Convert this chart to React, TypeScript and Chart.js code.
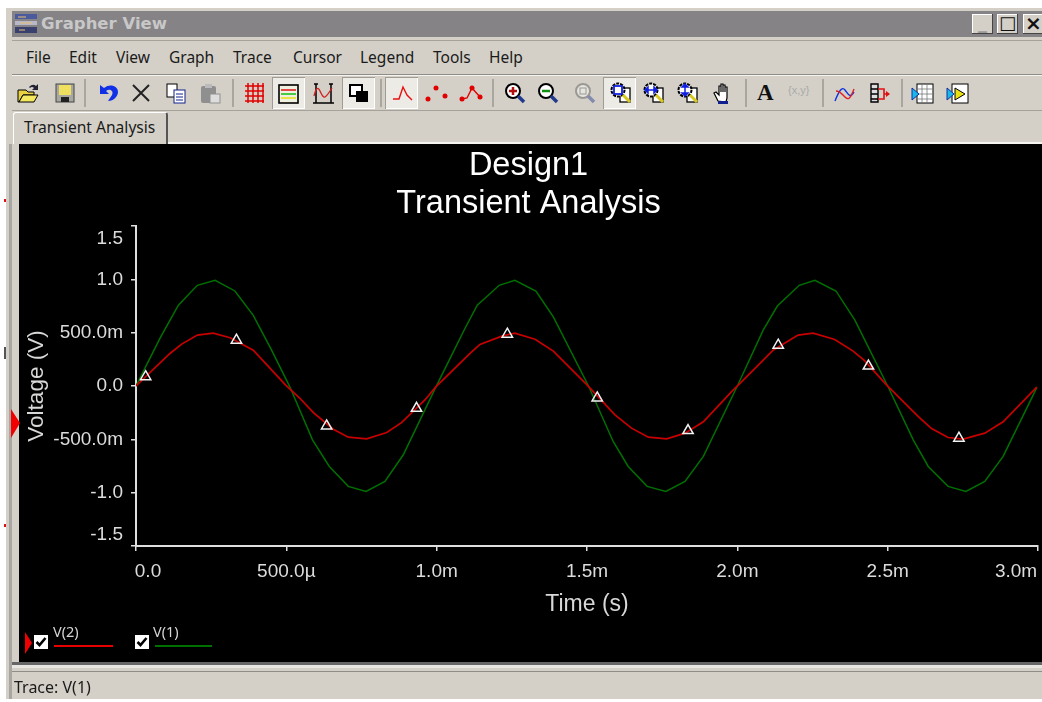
import React, { useEffect, useRef } from "react";
import { Chart, registerables } from "chart.js";

Chart.register(...registerables);

const chartTitleLines = ["Design1", "Transient Analysis"];
const xAxisTitle = "Time (s)";
const yAxisTitle = "Voltage (V)";
const xTickLabels = ["0.0", "500.0µ", "1.0m", "1.5m", "2.0m", "2.5m", "3.0m"];
const yTickLabels = ["-1.5", "-1.0", "-500.0m", "0.0", "500.0m", "1.0", "1.5"];
const menuItems = ["File", "Edit", "View", "Graph", "Trace", "Cursor", "Legend", "Tools", "Help"];
const menuLefts = [26, 69, 116, 169, 233, 293, 360, 433, 489];

// milliseconds / volts
const v1Times = [0, 0.08, 0.141, 0.204, 0.263, 0.329, 0.39, 0.451, 0.512, 0.587, 0.643, 0.706, 0.765, 0.828, 0.889, 0.998, 1.094, 1.135, 1.208, 1.26, 1.33, 1.388, 1.505, 1.587, 1.637, 1.7, 1.762, 1.826, 1.887, 2.0, 2.086, 2.133, 2.206, 2.258, 2.328, 2.391, 2.5, 2.585, 2.635, 2.701, 2.76, 2.823, 2.884, 2.996];
const v1Values = [0, 0.449, 0.757, 0.944, 0.99, 0.891, 0.663, 0.336, -0.01, -0.505, -0.754, -0.941, -0.988, -0.894, -0.645, -0.006, 0.539, 0.757, 0.944, 0.99, 0.891, 0.648, 0, -0.52, -0.754, -0.941, -0.988, -0.894, -0.66, 0, 0.523, 0.75, 0.944, 0.99, 0.891, 0.617, 0, -0.505, -0.754, -0.941, -0.988, -0.894, -0.66, -0.015];
const v2Times = [0, 0.113, 0.152, 0.204, 0.257, 0.313, 0.39, 0.497, 0.545, 0.59, 0.656, 0.706, 0.767, 0.834, 0.883, 0.961, 0.998, 1.111, 1.144, 1.219, 1.26, 1.327, 1.388, 1.5, 1.593, 1.648, 1.704, 1.765, 1.826, 1.887, 1.981, 2.048, 2.119, 2.202, 2.252, 2.324, 2.385, 2.424, 2.496, 2.602, 2.646, 2.701, 2.751, 2.823, 2.884, 2.996];
const v2Values = [0, 0.305, 0.393, 0.477, 0.495, 0.452, 0.336, 0.01, -0.115, -0.249, -0.405, -0.48, -0.495, -0.436, -0.343, -0.131, -0.006, 0.305, 0.39, 0.47, 0.495, 0.439, 0.327, 0.01, -0.271, -0.395, -0.48, -0.495, -0.442, -0.336, -0.053, 0.134, 0.336, 0.477, 0.495, 0.436, 0.327, 0.236, 0.01, -0.287, -0.399, -0.483, -0.498, -0.442, -0.336, -0.01];
const markerTimes = [0.032, 0.334, 0.634, 0.933, 1.235, 1.534, 1.836, 2.136, 2.436, 2.737];
const markerValues = [0.087, 0.43, -0.374, -0.209, 0.486, -0.112, -0.418, 0.383, 0.187, -0.489];

const legendNames = ["V(2)", "V(1)"];
const traceRed = "#c80000";
const traceGreen = "#007000";
const axisGrey = "#dedede";
const panel = "#d4d0c8";
const uiFont = '"Noto Sans", "DejaVu Sans", sans-serif';

const toPoints = (xs: number[], ys: number[]) => xs.map((x, i) => ({ x, y: ys[i] }));

const nudgeEndLabels = {
  id: "nudgeEndLabels",
  beforeDraw(chart: any) {
    const area = chart.chartArea;
    const yItems = chart.scales.y.getLabelItems(area);
    const xItems = chart.scales.x.getLabelItems(area);
    const shift = (item: any, dx: number, dy: number) => {
      if (item.__shifted) return;
      item.__shifted = true;
      const t = item.options.translation;
      item.options.translation = [t[0] + dx, t[1] + dy];
    };
    yItems.forEach((item: any) => {
      if (item.label === "1.5") shift(item, 0, 13);
      if (item.label === "-1.5") shift(item, 0, -11);
    });
    xItems.forEach((item: any) => {
      if (item.label === "0.0") shift(item, 12, 0);
      if (item.label === "3.0m") shift(item, -22, 0);
    });
  },
};

function Plot() {
  const ref = useRef<HTMLCanvasElement | null>(null);
  useEffect(() => {
    if (!ref.current) return;
    const chart = new Chart(ref.current, {
      type: "line",
      data: {
        datasets: [
          { label: "V(1)", data: toPoints(v1Times, v1Values), borderColor: traceGreen, borderWidth: 1.5, pointRadius: 0, tension: 0, order: 3 },
          { label: "V(2)", data: toPoints(v2Times, v2Values), borderColor: traceRed, borderWidth: 1.7, pointRadius: 0, tension: 0, order: 2 },
          { label: "V(2) markers", data: toPoints(markerTimes, markerValues), showLine: false, pointStyle: "triangle", pointRadius: 6, pointBorderColor: "#f2f2f2", pointBorderWidth: 1.5, pointBackgroundColor: "rgba(0,0,0,0)", order: 1 },
        ],
      },
      options: {
        animation: false,
        responsive: false,
        layout: { autoPadding: false, padding: { left: 0, right: 4, top: 0, bottom: 0 } },
        plugins: {
          legend: { display: false },
          tooltip: { enabled: false },
          title: {
            display: true,
            text: chartTitleLines,
            color: "#ffffff",
            font: { family: '"Liberation Sans", Arial, sans-serif', size: 32.5, weight: "normal", lineHeight: 38 / 32.5 },
            padding: { top: 3, bottom: 3 },
          },
        },
        scales: {
          x: {
            type: "linear",
            min: 0,
            max: 3,
            afterFit: (s: any) => { s.height = 116; s.paddingLeft = 0; s.paddingRight = 0; },
            border: { color: axisGrey, width: 2 },
            grid: { drawOnChartArea: false, drawTicks: true, tickLength: 5, color: axisGrey, lineWidth: 1.5 },
            ticks: {
              stepSize: 0.5,
              color: "#dcdcdc",
              padding: 9,
              maxRotation: 0,
              autoSkip: false,
              font: { family: '"Liberation Sans", Arial, sans-serif', size: 19 },
              callback: (_v: any, i: number) => xTickLabels[i],
            },
            title: {
              display: true,
              text: xAxisTitle,
              color: "#d8d8d8",
              font: { family: '"Liberation Sans", Arial, sans-serif', size: 23 },
              padding: { top: 0, bottom: 44 },
            },
          },
          y: {
            type: "linear",
            min: -1.5,
            max: 1.5,
            afterFit: (s: any) => { s.width = 117; s.paddingTop = 0; s.paddingBottom = 0; },
            border: { color: axisGrey, width: 2 },
            grid: { drawOnChartArea: false, drawTicks: true, tickLength: 5, color: axisGrey, lineWidth: 1.5 },
            ticks: {
              stepSize: 0.5,
              color: "#dcdcdc",
              padding: 8,
              autoSkip: false,
              font: { family: '"Liberation Sans", Arial, sans-serif', size: 19 },
              callback: (_v: any, i: number) => yTickLabels[i],
            },
            title: {
              display: true,
              text: yAxisTitle,
              color: "#d8d8d8",
              font: { family: '"Liberation Sans", Arial, sans-serif', size: 22.5 },
              padding: { top: 4, bottom: 0 },
            },
          },
        },
      } as any,
      plugins: [
        {
          id: "blackBg",
          beforeDraw(c: any) {
            c.ctx.save();
            c.ctx.fillStyle = "#000";
            c.ctx.fillRect(0, 0, c.width, c.height);
            c.ctx.restore();
          },
        },
        nudgeEndLabels,
      ],
    });
    return () => chart.destroy();
  }, []);
  return <canvas ref={ref} width={1023} height={518} style={{ position: "absolute", left: 19, top: 144, display: "block" }} />;
}

const Abs = ({ l, t, w, h, bg, style, children }: any) => (
  <div style={{ position: "absolute", left: l, top: t, width: w, height: h, background: bg, ...style }}>{children}</div>
);

const Svg = ({ cx, children }: any) => (
  <svg viewBox="0 0 24 24" width={24} height={24} style={{ position: "absolute", left: cx - 12, top: 81 }}>{children}</svg>
);

const Mag = ({ c = "#000", children }: any) => (
  <g>
    <circle cx="10" cy="10" r="7" fill="#fff" stroke={c} strokeWidth="2" />
    <path d="M15 15l6 6" stroke="#223a8c" strokeWidth="3.5" />
    {children}
  </g>
);

const ZoomPage = ({ children }: any) => (
  <g>
    <rect x="11" y="7" width="10" height="14" fill="#fff" stroke="#000" strokeWidth="1.3" />
    <circle cx="9" cy="9" r="6.5" fill="#fff" stroke="#000" strokeWidth="2" strokeDasharray="3 1" />
    <path d="M14 14l7 7" stroke="#d8c820" strokeWidth="3" />
    {children}
  </g>
);

const Sep = ({ x }: any) => <Abs l={x} t={79} w={2} h={28} bg="#a9a6a0" />;
const Pressed = ({ x, w = 33 }: any) => (
  <Abs l={x} t={77} w={w} h={32} bg="#ecebe6" style={{ boxShadow: "inset 1px 1px 0 #a09c94, inset -1px -1px 0 #ffffff" }} />
);

function Toolbar() {
  return (
    <>
      {[84, 232, 380, 492, 745, 822, 901].map((x) => <Sep key={x} x={x} />)}
      {[272, 342, 385, 603].map((x) => <Pressed key={x} x={x} />)}
      <Svg cx={28}><path d="M2 9h8l2 2h6v3H7L3 21H2z" fill="#e8d040" stroke="#000" /><path d="M7 14h15l-4 7H3z" fill="#f4e860" stroke="#000" /><path d="M13 6q4-4 7-1l2-2v6h-6l2-2q-2-2-4 0" fill="#223" /></Svg>
      <Svg cx={65}><rect x="3" y="3" width="18" height="18" fill="#a8a8a0" stroke="#444" /><rect x="6" y="4" width="12" height="10" fill="#f0e060" /><rect x="8" y="16" width="8" height="5" fill="#222" /></Svg>
      <Svg cx={107}><path d="M5 4v9h9l-3-3c4-3 8 0 6 4l-4 6c6 0 10-5 10-9 0-6-8-9-14-4L5 4z" fill="#1030e8" /></Svg>
      <Svg cx={141}><path d="M4 4l16 16M20 4L4 20" stroke="#222" strokeWidth="2" /></Svg>
      <Svg cx={176}><rect x="3" y="3" width="10" height="13" fill="#fff" stroke="#000" /><rect x="10" y="9" width="11" height="13" fill="#fff" stroke="#10208c" /><path d="M12 13h7M12 16h7M12 19h7" stroke="#10208c" /></Svg>
      <Svg cx={210}><rect x="3" y="5" width="15" height="17" rx="2" fill="#8f8f8f" /><rect x="7" y="3" width="7" height="4" fill="#bbb" /><rect x="12" y="13" width="10" height="9" fill="#ddd" stroke="#8f8f8f" /></Svg>
      <Svg cx={254}><path d="M3 5h19M3 10h19M3 15h19M3 20h19M6 2v20M11 2v20M16 2v20M21 2v20" stroke="#e00000" strokeWidth="1.5" /></Svg>
      <Svg cx={288}><rect x="3" y="4" width="19" height="18" fill="#f0f0e0" stroke="#000" strokeWidth="1.6" /><path d="M5 9h15" stroke="#e02020" strokeWidth="1.6" /><path d="M5 13h15" stroke="#20c020" strokeWidth="1.6" /><path d="M5 17h15" stroke="#e8e020" strokeWidth="1.6" /></Svg>
      <Svg cx={323}><path d="M5 3v19M20 3v19M2 22h21M3 3h4M18 3h4" stroke="#000" strokeWidth="1.5" fill="none" /><path d="M3 15q3-12 6-5t5 6 7-9" stroke="#d02020" strokeWidth="1.3" fill="none" /></Svg>
      <Svg cx={359}><rect x="3" y="4" width="12" height="11" fill="#fff" stroke="#000" strokeWidth="2" /><rect x="9" y="10" width="12" height="11" fill="#000" /></Svg>
      <Svg cx={403}><path d="M2 18h6l4-12 4 8 5 5" stroke="#e81010" strokeWidth="1.4" fill="none" /></Svg>
      <Svg cx={437}><g fill="#e00000"><circle cx="3" cy="18" r="2.5" /><circle cx="11" cy="7" r="2.5" /><circle cx="20" cy="15" r="2.5" /></g></Svg>
      <Svg cx={471}><path d="M3 18l5-1 5-10 8 9" stroke="#e00000" strokeWidth="1.4" fill="none" /><g fill="#e00000"><circle cx="3" cy="18" r="2.5" /><circle cx="13" cy="7" r="2.5" /><circle cx="21" cy="16" r="2.5" /></g></Svg>
      <Svg cx={515}><Mag><path d="M6 10h8M10 6v8" stroke="#b01010" strokeWidth="2.5" /></Mag></Svg>
      <Svg cx={548}><Mag><path d="M6 10h8" stroke="#109010" strokeWidth="2.5" /></Mag></Svg>
      <Svg cx={585}><g opacity="0.45"><Mag c="#555"><rect x="7" y="7" width="6" height="6" fill="none" stroke="#555" /></Mag></g></Svg>
      <Svg cx={621}><ZoomPage><rect x="5" y="5" width="8" height="8" fill="none" stroke="#1020e0" strokeWidth="1.8" /></ZoomPage></Svg>
      <Svg cx={654}><ZoomPage><path d="M3 9h12M3 9l3-3v6zM15 9l-3-3v6z" stroke="#1020e0" strokeWidth="1.5" fill="#1020e0" /></ZoomPage></Svg>
      <Svg cx={688}><ZoomPage><path d="M9 3v12M9 3l-3 3h6zM9 15l-3-3h6z" stroke="#1020e0" strokeWidth="1.5" fill="#1020e0" /></ZoomPage></Svg>
      <Svg cx={723}><path d="M7 20L3 12l2-1 3 3V5h2v6-8h2v8-7h2v7-5h2v11l-1 4z" fill="#fff" stroke="#000" strokeWidth="1.2" /><rect x="7" y="20" width="10" height="3" fill="#10208c" /></Svg>
      <div style={{ position: "absolute", left: 757, top: 78, fontFamily: '"Liberation Serif", serif', fontWeight: 700, fontSize: 23, color: "#111", lineHeight: "30px" }}>A</div>
      <div style={{ position: "absolute", left: 788, top: 83, fontFamily: '"Liberation Sans", sans-serif', fontSize: 11, color: "#aaa", lineHeight: "14px" }}>{"{x,y}"}</div>
      <Svg cx={845}><path d="M2 20C6 10 9 5 12 9s5 9 9 2" stroke="#1030e0" strokeWidth="1.4" fill="none" /><path d="M3 10c4 0 6 3 9 6s5 3 9-8" stroke="#e02020" strokeWidth="1.4" fill="none" /></Svg>
      <Svg cx={879}><path d="M4 3h7v18H4zM4 8h7M4 13h7M4 18h7" stroke="#000" strokeWidth="1.4" fill="#ddd" /><path d="M11 8h6v10h-6M17 13h5" stroke="#e01010" strokeWidth="1.6" fill="none" /><path d="M19 10l4 3-4 3z" fill="#e01010" /></Svg>
      <Svg cx={923}><rect x="6" y="3" width="16" height="19" fill="#fff" stroke="#000" /><path d="M6 8h16M6 13h16M6 18h16M11 3v19M16 3v19" stroke="#777" strokeWidth="0.8" /><path d="M1 7l7 6-7 6z" fill="#18b8e8" stroke="#1030a0" /></Svg>
      <Svg cx={958}><rect x="6" y="3" width="16" height="19" fill="#fff" stroke="#000" /><path d="M9 7l10 6-10 6z" fill="#e8e010" stroke="#000" /><path d="M1 7l7 6-7 6z" fill="#18b8e8" stroke="#1030a0" /></Svg>
    </>
  );
}

function LegendEntry({ name, boxX, lineX, lineW, color, textX }: any) {
  return (
    <>
      <Abs l={boxX} t={635} w={14} h={14} bg="#fff" />
      <svg width={14} height={14} viewBox="0 0 14 14" style={{ position: "absolute", left: boxX, top: 635 }}>
        <path d="M2.5 7l3 3 6-7" stroke="#000" strokeWidth="2.6" fill="none" />
      </svg>
      <div style={{ position: "absolute", left: textX, top: 622, fontFamily: uiFont, fontSize: 14.5, lineHeight: "18px", color: "#d6d6d6" }}>{name}</div>
      <Abs l={lineX} t={645} w={lineW} h={1.5} bg={color} />
    </>
  );
}

export default function App() {
  return (
    <div style={{ position: "fixed", left: 0, top: 0, width: 1042, height: 702, background: "#fff", overflow: "hidden" }}>
      <Abs l={6} t={8} w={1036} h={692} bg={panel} />
      <Abs l={9} t={144} w={3} h={556} bg="#a8a6a2" />
      <Abs l={4} t={199} w={2} h={3} bg="#e01010" />
      <Abs l={4} t={524} w={2} h={3} bg="#e01010" />
      <Abs l={4} t={347} w={2} h={12} bg="#555" />

      <Abs l={12} t={11} w={1030} h={26} bg="#858386" />
      <svg width={24} height={22} viewBox="0 0 24 22" style={{ position: "absolute", left: 14, top: 13 }}>
        <rect x="1" y="1" width="22" height="5" fill="#4a5a9c" /><rect x="1" y="8" width="22" height="4" fill="#b8b8c8" /><rect x="1" y="14" width="22" height="6" fill="#39406e" /><path d="M4 4h8M6 10h12M5 17h6" stroke="#e8c070" />
      </svg>
      <div style={{ position: "absolute", left: 41, top: 13, fontFamily: '"DejaVu Sans", sans-serif', fontWeight: 700, fontSize: 16.5, lineHeight: "22px", color: "#c8c8c8" }}>Grapher View</div>
      {[[972, "_"], [997, "□"], [1023, "×"]].map(([x, c]: any) => (
        <div key={x} style={{ position: "absolute", left: x, top: 14, width: 21, height: 20, background: panel, boxShadow: "inset -1px -1px 0 #444, inset 1px 1px 0 #fff", textAlign: "center", fontFamily: '"DejaVu Sans", sans-serif', fontSize: c === "×" ? 20 : 18, fontWeight: 700, lineHeight: "18px", color: c === "_" ? "#999" : "#111" }}>{c}</div>
      ))}
      <Abs l={12} t={40} w={1030} h={1} bg="#a5a29b" />

      {menuItems.map((m, i) => (
        <div key={m} style={{ position: "absolute", left: menuLefts[i], top: 46, fontFamily: uiFont, fontSize: 15.5, lineHeight: "22px", color: "#1a1a1a" }}>{m}</div>
      ))}
      <Abs l={12} t={74} w={1030} h={1} bg="#8f8d88" />
      <Abs l={12} t={75} w={1030} h={1} bg="#f4f3ef" />
      <Toolbar />
      <Abs l={12} t={110} w={1030} h={1} bg="#a5a29b" />

      <Abs l={13} t={112} w={155} h={32} bg={panel} style={{ borderLeft: "1px solid #fff", borderTop: "1px solid #fff", borderRight: "2px solid #555", boxSizing: "border-box", borderTopLeftRadius: 3, borderTopRightRadius: 3 }} />
      <div style={{ position: "absolute", left: 24, top: 116, fontFamily: uiFont, fontSize: 15.6, lineHeight: "22px", color: "#1a1a1a" }}>Transient Analysis</div>
      <Abs l={168} t={142} w={874} h={2} bg="#f4f3ef" />

      <Plot />

      <svg width={12} height={30} viewBox="0 0 12 30" style={{ position: "absolute", left: 10, top: 409 }}><path d="M1 0L10 14 1 29z" fill="#f00000" /></svg>
      <svg width={8} height={24} viewBox="0 0 8 24" style={{ position: "absolute", left: 25, top: 631 }}><path d="M0 1L7 12 0 23z" fill="#f00000" /></svg>
      <LegendEntry name={legendNames[0]} boxX={34} lineX={54} lineW={59} color="#e80000" textX={53} />
      <LegendEntry name={legendNames[1]} boxX={135} lineX={155} lineW={57} color={traceGreen} textX={153} />

      <Abs l={12} t={662} w={1030} h={3} bg="#666" />
      <Abs l={12} t={665} w={1030} h={3} bg="#e8e6e1" />
      <Abs l={12} t={671} w={1030} h={1} bg="#8f8d88" />
      <div style={{ position: "absolute", left: 14, top: 676, fontFamily: uiFont, fontSize: 16, lineHeight: "22px", color: "#1a1a1a" }}>Trace: V(1)</div>
      <Abs l={6} t={699} w={1036} h={3} bg="#fff" />
    </div>
  );
}
